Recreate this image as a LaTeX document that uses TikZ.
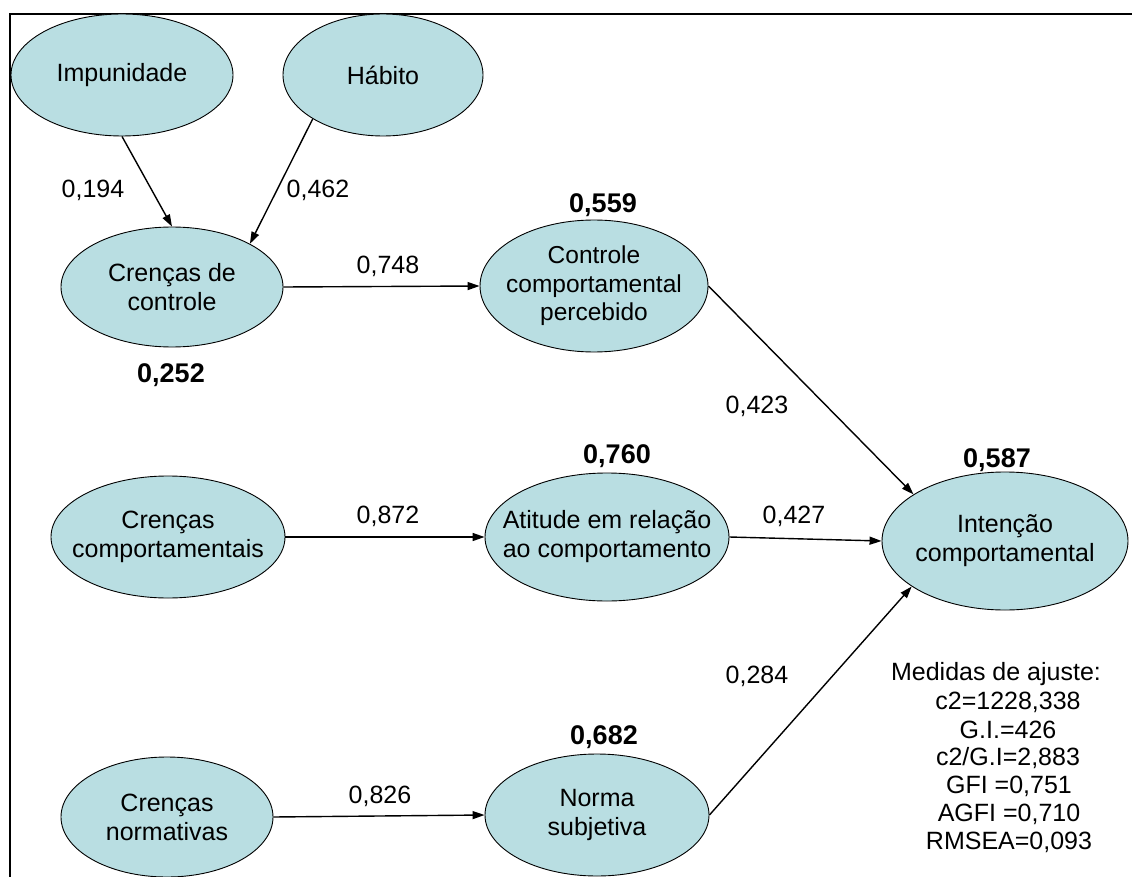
\documentclass[tikz,border=0pt]{standalone}
\usepackage{fontspec}
\setmainfont{Liberation Sans}
\usetikzlibrary{shapes.geometric,arrows.meta}
\definecolor{ellfill}{RGB}{185,222,226}
\begin{document}
\begin{tikzpicture}[x=1pt,y=-1pt,
  ell/.style={ellipse,draw=black,line width=0.9pt,fill=ellfill,inner sep=0pt},
  etext/.style={align=center,inner sep=0pt,font=\fontsize{25}{29}\selectfont},
  coef/.style={font=\fontsize{25}{29}\selectfont,inner sep=0pt},
  rsq/.style={font=\fontsize{27}{31}\selectfont\bfseries,inner sep=0pt},
  fit/.style={font=\fontsize{25}{29}\selectfont,inner sep=0pt},
  path/.style={line width=1.4pt,-{Triangle[length=12pt,width=8pt]}}]
\useasboundingbox (0,0) rectangle (1132,877);
% frame
\draw[line width=2pt] (9.5,877) -- (9.5,14) -- (1132,14);
% ellipses
\node[ell,minimum width=222pt,minimum height=122pt] (imp) at (122,75) {};
\node[ell,minimum width=200pt,minimum height=122pt] (hab) at (383,75) {};
\node[ell,minimum width=222pt,minimum height=120pt] (cc) at (172,287) {};
\node[ell,minimum width=228pt,minimum height=132pt] (ctrl) at (594,286) {};
\node[ell,minimum width=234pt,minimum height=122pt] (ccomp) at (168,537) {};
\node[ell,minimum width=244pt,minimum height=128pt] (att) at (607,537) {};
\node[ell,minimum width=246pt,minimum height=138pt] (int) at (1005,541) {};
\node[ell,minimum width=212pt,minimum height=120pt] (cn) at (167,817) {};
\node[ell,minimum width=224pt,minimum height=122pt] (ns) at (597,815) {};
% ellipse texts
\node[etext] (impt) at (imp) {Impunidade};
\node[etext] (habt) at (hab) {Hábito};
\node[etext] (cct) at (cc) {Crenças de\\controle};
\node[etext,font=\fontsize{24.5}{28.5}\selectfont] (ctrlt) at (ctrl) {Controle\\comportamental\\percebido};
\node[etext] (ccompt) at (ccomp) {Crenças\\comportamentais};
\node[etext] (attt) at (att) {Atitude em relação\\ao comportamento};
\node[etext] (intt) at (int) {Intenção\\comportamental};
\node[etext] (cnt) at (cn) {Crenças\\normativas};
\node[etext] (nst) at (ns) {Norma\\subjetiva};
% paths
\draw[path] (imp.south) -- (cc.north);
\draw[path] (hab.212) -- (cc.29);
\draw[path] (cc.east) -- (ctrl.west);
\draw[path] (ctrl.east) -- (int.153);
\draw[path] (ccomp.east) -- (att.west);
\draw[path] (att.east) -- (int.west);
\draw[path] (ns.east) -- (int.206);
\draw[path] (cn.east) -- (ns.west);
% coefficients
\node[coef] (c1) at (93,190) {0,194};
\node[coef] (c2) at (318,190) {0,462};
\node[coef] (c3) at (388,266) {0,748};
\node[coef] (c4) at (757,406) {0,423};
\node[coef] (c5) at (388,516) {0,872};
\node[coef] (c6) at (794,516) {0,427};
\node[coef] (c7) at (757,676) {0,284};
\node[coef] (c8) at (380,796) {0,826};
% R squared
\node[rsq] (r1) at (603,205) {0,559};
\node[rsq] (r2) at (171,375) {0,252};
\node[rsq] (r3) at (617,456) {0,760};
\node[rsq] (r4) at (997,460) {0,587};
\node[rsq] (r5) at (604,737) {0,682};
% fit measures
\node[fit] (m1) at (996,674) {Medidas de ajuste:};
\node[fit] (m2) at (1008,702) {c2=1228,338};
\node[fit] (m3) at (1008,730) {G.I.=426};
\node[fit] (m4) at (1008,758) {c2/G.I=2,883};
\node[fit] (m5) at (1009,786) {GFI =0,751};
\node[fit] (m6) at (1009,814) {AGFI =0,710};
\node[fit] (m7) at (1009,842) {RMSEA=0,093};
\end{tikzpicture}
\end{document}
